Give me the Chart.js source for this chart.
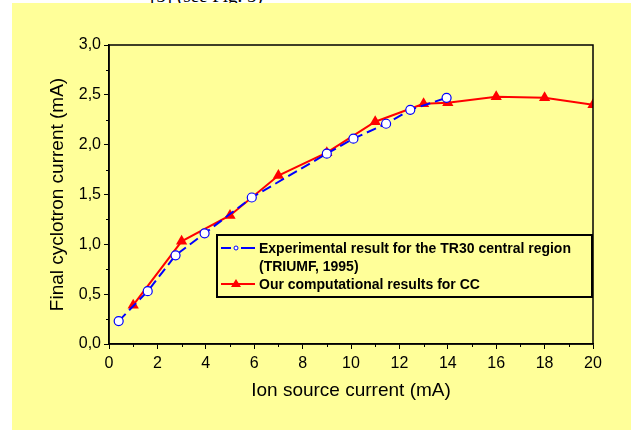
<!DOCTYPE html>
<html>
<head>
<meta charset="utf-8">
<script src="https://cdn.jsdelivr.net/npm/chart.js@4"></script>
<style>
  body { margin: 0; background: #fff; width: 631px; height: 430px; overflow: hidden; position: relative; }
  #top { position: absolute; left: 150px; top: -15px; font: 19px "Liberation Serif", serif; color: #000; }
  #panel { position: absolute; left: 12px; top: 3px; width: 619px; height: 427px; background: #FFFF99; }
</style>
</head>
<body>
<div id="top">[5] (see Fig. 5)</div>
<div id="panel"><canvas id="lineChart" width="619" height="427"></canvas></div>
<script>
// 実験値 (TRIUMF)
const expX = [0.4, 1.6, 2.75, 3.95, 5.9, 9.0, 10.1, 11.45, 12.45, 13.95];
const expY = [0.23, 0.53, 0.89, 1.11, 1.47, 1.91, 2.06, 2.21, 2.35, 2.47];
// 計算値 (CC)
const ccX = [1, 3, 5, 7, 9, 11, 13, 14, 16, 18, 20];
const ccY = [0.39, 1.03, 1.29, 1.69, 1.92, 2.23, 2.41, 2.42, 2.48, 2.47, 2.40];

const legendLabels = ['Experimental result for the TR30 central region', '(TRIUMF, 1995)', 'Our computational results for CC'];

const toPts = (xs, ys) => xs.map((x, i) => ({ x: x, y: ys[i] }));

// 枠・副目盛り・凡例
const framePlugin = {
  id: 'frame',
  afterDraw(chart) {
    const ctx = chart.ctx;
    const a = chart.chartArea;
    ctx.save();
    ctx.strokeStyle = '#000';
    ctx.lineWidth = 1.5;
    ctx.strokeRect(a.left, a.top, a.right - a.left, a.bottom - a.top);

    // minor ticks
    ctx.lineWidth = 1;
    const xs = chart.scales.x, ys = chart.scales.y;
    for (let v = 1; v < 20; v += 2) {
      const px = Math.round(xs.getPixelForValue(v)) + 0.5;
      ctx.beginPath(); ctx.moveTo(px, a.bottom); ctx.lineTo(px, a.bottom + 3); ctx.stroke();
    }
    for (let v = 0.25; v < 3; v += 0.5) {
      const py = Math.round(ys.getPixelForValue(v)) + 0.5;
      ctx.beginPath(); ctx.moveTo(a.left, py); ctx.lineTo(a.left - 3, py); ctx.stroke();
    }

    // legend
    const bx = 205, by = 232, bw = 375, bh = 62;
    ctx.lineWidth = 2;
    ctx.strokeRect(bx, by, bw, bh);
    ctx.font = 'bold 14px "Liberation Sans", Arial, sans-serif';
    ctx.fillStyle = '#000';
    ctx.textBaseline = 'middle';
    ctx.fillText(legendLabels[0], 247, 246);
    ctx.fillText(legendLabels[1], 247, 264);
    ctx.fillText(legendLabels[2], 247, 282);

    ctx.strokeStyle = '#0000FF';
    ctx.lineWidth = 2;
    ctx.beginPath(); ctx.moveTo(209, 245); ctx.lineTo(219, 245); ctx.stroke();
    ctx.beginPath(); ctx.moveTo(229, 245); ctx.lineTo(243, 245); ctx.stroke();
    ctx.lineWidth = 1;
    ctx.fillStyle = '#fff';
    ctx.beginPath(); ctx.arc(224, 245, 2, 0, Math.PI * 2); ctx.fill(); ctx.stroke();

    ctx.strokeStyle = '#FF0000';
    ctx.lineWidth = 2;
    ctx.beginPath(); ctx.moveTo(209, 281); ctx.lineTo(243, 281); ctx.stroke();
    ctx.fillStyle = '#FF0000';
    ctx.beginPath(); ctx.moveTo(224, 276); ctx.lineTo(229, 284); ctx.lineTo(219, 284); ctx.closePath(); ctx.fill();
    ctx.restore();
  }
};

let lineCtx = document.getElementById('lineChart');
let lineConfig = {
  type: 'line',
  data: {
    datasets: [{
      label: 'Experimental result for the TR30 central region (TRIUMF, 1995)',
      data: toPts(expX, expY),
      borderColor: '#0000FF',
      borderWidth: 2,
      borderDash: [10, 5],
      pointStyle: 'circle',
      pointRadius: 4.5,
      pointBorderWidth: 1.2,
      pointBorderColor: '#0000FF',
      pointBackgroundColor: '#FFFFFF',
      tension: 0,
    }, {
      label: 'Our computational results for CC',
      data: toPts(ccX, ccY),
      borderColor: '#FF0000',
      borderWidth: 2,
      pointStyle: 'triangle',
      pointRadius: 6.5,
      pointBorderWidth: 0,
      pointBackgroundColor: '#FF0000',
      tension: 0,
    }],
  },
  options: {
    responsive: false,
    animation: false,
    events: [],
    layout: { padding: { left: 34, right: 38, top: 42, bottom: 24 } },
    plugins: { legend: { display: false }, tooltip: { enabled: false } },
    scales: {
      x: {
        type: 'linear',
        min: 0, max: 20,
        afterFit(s) { s.height = 62; },
        border: { color: '#000', width: 1.5 },
        grid: { drawOnChartArea: false, tickColor: '#000', tickLength: 5 },
        ticks: { stepSize: 2, color: '#000', padding: 5, font: { family: '"Liberation Sans", Arial', size: 16 } },
        title: {
          display: true,
          text: 'Ion source current (mA)',
          color: '#000',
          padding: { top: 4, bottom: 4 },
          font: { family: '"Liberation Sans", Arial', size: 19 },
        }
      },
      y: {
        type: 'linear',
        min: 0, max: 3,
        afterFit(s) { s.width = 63; },
        border: { color: '#000', width: 1.5 },
        grid: { drawOnChartArea: false, tickColor: '#000', tickLength: 5 },
        ticks: {
          stepSize: 0.5, color: '#000', padding: 3,
          font: { family: '"Liberation Sans", Arial', size: 16 },
          callback: v => v.toFixed(1).replace('.', ','),
        },
        title: {
          display: true,
          text: 'Final cyclotron current (mA)',
          color: '#000',
          padding: 0,
          font: { family: '"Liberation Sans", Arial', size: 19 },
        }
      }
    },
  },
  plugins: [framePlugin],
};
let lineChart = new Chart(lineCtx, lineConfig);
</script>
</body>
</html>
